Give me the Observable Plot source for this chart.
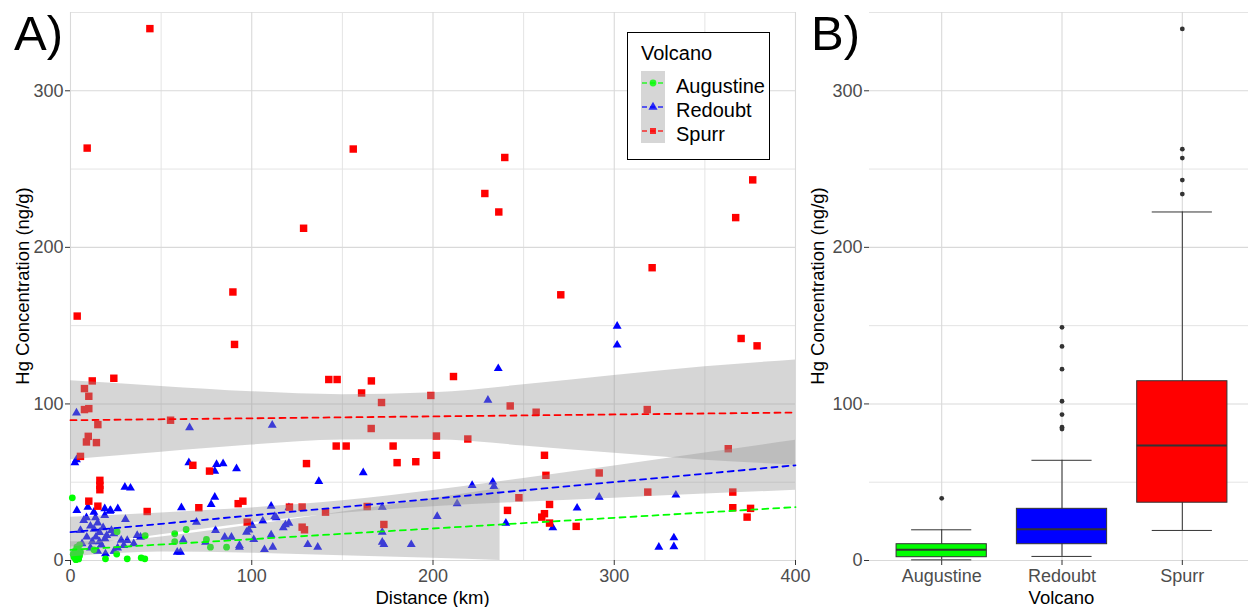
<!DOCTYPE html>
<html>
<head>
<meta charset="utf-8">
<script src="https://cdn.jsdelivr.net/npm/d3@7"></script>
<script src="https://cdn.jsdelivr.net/npm/@observablehq/plot@0.6"></script>
<style>
html, body { margin: 0; padding: 0; background: #ffffff; }
#wrap { position: relative; width: 1248px; height: 607px; overflow: hidden; background: #ffffff; }
#panelA { position: absolute; left: 0; top: 0; width: 800px; height: 607px; }
#panelB { position: absolute; left: 800px; top: 0; width: 460px; height: 607px; }
#panelA svg, #panelB svg { max-width: none !important; display: block; }
#overlay { position: absolute; left: 0; top: 0; }
</style>
</head>
<body>
<div id="wrap">
  <div id="panelA"></div>
  <div id="panelB"></div>
  <svg id="overlay" width="1248" height="607"></svg>
</div>
<script>
// ---------------- DATA ----------------
const volcanoes = ["Augustine", "Redoubt", "Spurr"];
const volcanoColors = ["#00ff00", "#0000ff", "#ff0000"];
const volcanoSymbols = ["circle", "triangle", "square"];
const panelLabels = ["A)", "B)"];
const xTitleA = "Distance (km)";
const xTitleB = "Volcano";
const yTitle = "Hg Concentration (ng/g)";
const legendTitle = "Volcano";

const xTicksA = [0, 100, 200, 300, 400];
const xMinorA = [50, 150, 250, 350];
const yTicks = [0, 100, 200, 300];
const yMinor = [50, 150, 250, 350];

// Augustine observations (distance km, Hg ng/g)
const augustineDist = [1.0, 2.0, 3.0, 4.0, 5.0, 2.5, 4.5, 3.5, 1.5, 25.7,
  41.2, 57.5, 63.8, 57.5, 75.0, 77.2, 86.1, 25.5, 31.3, 39.0,
  41.0, 19.3, 12.9, 5.0, 3.0, 5.5];
const augustineHg = [40.0, 2.0, 5.0, 7.7, 3.0, 6.0, 1.0, 8.5, 4.0, 18.4,
  15.8, 17.1, 19.8, 12.0, 13.4, 8.5, 8.5, 4.1, 1.1, 1.7,
  1.1, 1.1, 6.8, 10.0, 0.5, 5.5];

// Redoubt observations
const redoubtDist = [301.6, 301.6, 236.0, 230.3, 221.6, 233.0, 233.6, 213.3, 202.3, 188.0,
  240.2, 266.1, 279.5, 291.7, 334.0, 324.6, 332.9, 332.9, 3.3, 3.3,
  2.4, 65.7, 111.3, 65.3, 80.6, 84.2, 79.6, 91.6, 137.0, 161.5,
  30.0, 33.1, 3.5, 9.6, 18.9, 22.1, 26.1, 61.2, 77.6, 79.6,
  110.7, 120.5, 112.7, 106.1, 100.2, 98.4, 118.6, 120.5, 69.5, 30.3,
  22.6, 80.0, 110.7, 85.1, 88.8, 62.2, 74.5, 93.2, 93.2, 101.1,
  107.0, 111.6, 130.9, 136.4, 60.7, 172.0, 172.0, 172.0, 172.9, 97.1,
  117.4, 113.5, 8.8, 7.3, 12.9, 18.9, 21.7, 5.5, 6.4, 23.9,
  31.3, 29.4, 34.9, 36.8, 38.6, 19.3, 58.9, 13.8, 11.0, 13.0,
  15.0, 16.0, 14.0, 12.0, 17.0, 19.0, 11.0, 15.0, 18.0, 20.0,
  16.0, 9.0, 26.0, 28.0, 24.0];
const redoubtHg = [149.7, 137.6, 122.6, 102.4, 48.0, 50.1, 47.3, 36.3, 28.2, 10.2,
  23.9, 20.9, 33.5, 40.5, 41.8, 8.5, 14.5, 8.9, 94.3, 64.4,
  62.5, 84.9, 86.4, 62.5, 61.4, 61.9, 57.1, 58.7, 50.5, 56.1,
  46.9, 46.3, 32.0, 34.1, 33.1, 32.0, 33.1, 33.7, 35.8, 40.5,
  34.7, 33.7, 28.2, 25.2, 22.4, 19.6, 22.8, 23.9, 24.5, 26.2,
  19.2, 19.2, 16.4, 14.9, 14.9, 13.2, 11.7, 8.5, 9.6, 13.4,
  7.0, 8.5, 10.2, 8.5, 5.3, 34.1, 18.1, 11.7, 10.2, 18.1,
  20.9, 27.3, 27.3, 25.6, 30.9, 28.8, 31.5, 19.2, 10.7, 17.1,
  12.8, 9.6, 10.7, 16.0, 14.9, 4.3, 5.3, 27.3, 22.0, 20.0,
  24.0, 18.0, 15.0, 12.0, 10.0, 14.0, 8.0, 6.0, 21.0, 16.0,
  12.0, 15.0, 8.0, 13.0, 6.0];

// Spurr observations
const spurrDist = [43.8, 9.2, 156.0, 239.6, 228.6, 236.3, 128.6, 376.4, 367.0, 320.9,
  270.5, 89.6, 90.5, 370.0, 378.8, 3.7, 211.3, 198.8, 242.6, 256.9,
  318.2, 201.9, 219.2, 190.5, 180.2, 201.9, 261.5, 262.3, 291.7, 362.9,
  247.4, 318.5, 365.4, 241.1, 264.3, 261.5, 260.0, 264.3, 279.0, 365.4,
  375.2, 373.3, 7.7, 12.0, 10.1, 7.7, 10.1, 23.9, 15.1, 9.8,
  8.8, 14.3, 5.5, 55.2, 142.5, 147.1, 166.0, 160.6, 171.6, 165.9,
  146.6, 152.1, 178.0, 130.2, 67.5, 76.7, 16.2, 16.2, 16.2, 10.1,
  15.1, 42.3, 70.8, 92.5, 95.1, 97.5, 120.8, 127.8, 140.7, 163.7,
  127.8, 129.1, 172.9];
const spurrHg = [339.7, 263.4, 262.8, 257.4, 234.4, 222.6, 212.2, 243.1, 219.0, 187.0,
  169.7, 171.5, 138.0, 141.8, 137.1, 156.1, 117.5, 105.4, 98.7, 94.7,
  96.4, 79.5, 77.6, 63.1, 62.5, 67.2, 67.2, 54.4, 55.9, 71.4,
  40.1, 43.7, 43.7, 32.0, 35.8, 29.9, 27.7, 23.9, 21.8, 33.7,
  33.3, 27.7, 109.8, 114.7, 104.9, 96.4, 97.0, 116.4, 86.8, 79.3,
  75.7, 75.3, 66.5, 89.6, 115.6, 115.6, 114.7, 107.0, 100.9, 84.3,
  73.1, 73.1, 73.1, 61.9, 60.8, 57.1, 51.2, 48.0, 45.2, 37.9,
  34.7, 31.3, 33.7, 36.3, 37.9, 24.5, 34.1, 34.1, 30.9, 34.5,
  21.3, 19.6, 23.0];

// Linear trend lines (value at 0 km and 400 km)
const trendDist = [0, 400];
const augustineTrend = [6.8, 34.1];
const redoubtTrend = [18.1, 60.8];
const spurrTrend = [89.6, 94.5];

// Confidence bands
const augustineBandDist = [0, 25, 50, 100, 150, 200, 237];
const augustineBandLo = [2.3, 4.5, 5.4, 4.7, 3.1, 1.4, 0.0];
const augustineBandHi = [11.9, 12.5, 15.0, 22.6, 30.9, 39.6, 46.0];
const bandDist = [0, 50, 100, 150, 200, 250, 300, 350, 400];
const redoubtBandLo = [8.5, 16.4, 24.0, 30.1, 34.3, 37.2, 39.8, 42.4, 44.8];
const redoubtBandHi = [27.7, 30.4, 33.6, 38.1, 44.7, 52.4, 60.4, 68.6, 76.8];
const spurrBandLo = [64.4, 69.2, 73.8, 76.9, 77.1, 73.2, 68.5, 64.1, 60.9];
const spurrBandHi = [114.8, 111.2, 107.8, 105.9, 107.1, 112.2, 118.1, 123.7, 128.1];

// Box plot statistics (panel B)
const boxQ1 = [2.1, 10.4, 36.9];
const boxMedian = [6.8, 20.0, 73.4];
const boxQ3 = [10.4, 33.0, 114.5];
const whiskerLow = [0.4, 2.6, 19.2];
const whiskerHigh = [19.6, 64.0, 222.6];
const outlierVolcano = ["Augustine", "Redoubt", "Redoubt", "Redoubt", "Redoubt", "Redoubt", "Redoubt", "Redoubt",
  "Spurr", "Spurr", "Spurr", "Spurr", "Spurr"];
const outlierHg = [39.7, 148.9, 136.7, 122.2, 101.7, 93.2, 85.1, 84.0,
  339.5, 262.7, 257.0, 243.0, 234.0];

// ---------------- HELPERS ----------------
const FONT = '"Liberation Sans", Arial, Helvetica, sans-serif';
const pts = (ds, vs) => ds.map((d, i) => ({d, v: vs[i]}));
const band = (ds, lo, hi) => ds.map((d, i) => ({d, lo: lo[i], hi: hi[i]}));
const MAJOR = "#d9d9d9", MINOR = "#e4e4e4";
const axisStyle = {tickSize: 5, fontSize: 18, fill: "#4d4d4d", stroke: "#333333", label: null};
const plotStyle = {fontFamily: FONT, fontSize: "18px", background: "transparent", overflow: "visible", maxWidth: "none"};

const series = [
  {dist: augustineDist, hg: augustineHg, trend: augustineTrend,
   bd: augustineBandDist, lo: augustineBandLo, hi: augustineBandHi, r: 3.4},
  {dist: redoubtDist, hg: redoubtHg, trend: redoubtTrend,
   bd: bandDist, lo: redoubtBandLo, hi: redoubtBandHi, r: 3.3},
  {dist: spurrDist, hg: spurrHg, trend: spurrTrend,
   bd: bandDist, lo: spurrBandLo, hi: spurrBandHi, r: 4.2}
];

// ---------------- PANEL A ----------------
const pointOrder = [1, 2, 0];
const marksA = [
  Plot.ruleX(xMinorA, {x: d => d, stroke: MINOR, strokeWidth: 1}),
  Plot.ruleY(yMinor, {y: d => d, stroke: MINOR, strokeWidth: 1}),
  Plot.ruleX(xTicksA, {x: d => d, stroke: MAJOR, strokeWidth: 1.1}),
  Plot.ruleY(yTicks, {y: d => d, stroke: MAJOR, strokeWidth: 1.1})
];
for (const k of pointOrder) {
  const s = series[k];
  marksA.push(Plot.dot(pts(s.dist, s.hg), {x: "d", y: "v", symbol: volcanoSymbols[k], r: s.r,
    fill: volcanoColors[k], stroke: "none"}));
}
series.forEach((s, k) => {
  marksA.push(Plot.areaY(band(s.bd, s.lo, s.hi), {x: "d", y1: "lo", y2: "hi",
    fill: "#999999", fillOpacity: 0.4, curve: "monotone-x", clip: true}));
  marksA.push(Plot.line(pts(trendDist, s.trend), {x: "d", y: "v", stroke: volcanoColors[k],
    strokeWidth: 1.8, strokeDasharray: "6,5"}));
});
marksA.push(Plot.axisX({...axisStyle, ticks: xTicksA, tickPadding: 4}));
marksA.push(Plot.axisY({...axisStyle, ticks: yTicks, tickPadding: 2}));

const plotA = Plot.plot({
  width: 800, height: 607,
  marginLeft: 70, marginRight: 5, marginTop: 12, marginBottom: 47,
  x: {domain: [0, 400]},
  y: {domain: [0, 350]},
  style: plotStyle,
  marks: marksA
});
document.getElementById("panelA").appendChild(plotA);

// ---------------- PANEL B ----------------
const boxes = volcanoes.map((name, k) => ({name, i: k + 1, q1: boxQ1[k], med: boxMedian[k],
  q3: boxQ3[k], lo: whiskerLow[k], hi: whiskerHigh[k]}));
const outs = outlierVolcano.map((n, j) => ({i: volcanoes.indexOf(n) + 1, v: outlierHg[j]}));
const catPos = volcanoes.map((n, k) => k + 1);

const plotB = Plot.plot({
  width: 460, height: 607,
  marginLeft: 69, marginRight: 6, marginTop: 12, marginBottom: 47,
  x: {domain: [0.4, 3.6]},
  y: {domain: [0, 350]},
  color: {domain: volcanoes, range: volcanoColors},
  style: plotStyle,
  marks: [
    Plot.ruleY(yMinor, {y: d => d, stroke: MINOR, strokeWidth: 1}),
    Plot.ruleX(catPos, {x: d => d, stroke: MAJOR, strokeWidth: 1.1}),
    Plot.ruleY(yTicks, {y: d => d, stroke: MAJOR, strokeWidth: 1.1}),
    Plot.ruleX(boxes, {x: "i", y1: "lo", y2: "hi", stroke: "#333333", strokeWidth: 1}),
    Plot.ruleY(boxes, {y: "lo", x1: d => d.i - 0.25, x2: d => d.i + 0.25, stroke: "#333333", strokeWidth: 1}),
    Plot.ruleY(boxes, {y: "hi", x1: d => d.i - 0.25, x2: d => d.i + 0.25, stroke: "#333333", strokeWidth: 1}),
    Plot.rect(boxes, {x1: d => d.i - 0.375, x2: d => d.i + 0.375, y1: "q1", y2: "q3",
      fill: "name", stroke: "#333333", strokeWidth: 1}),
    Plot.ruleY(boxes, {y: "med", x1: d => d.i - 0.375, x2: d => d.i + 0.375, stroke: "#333333", strokeWidth: 2}),
    Plot.dot(outs, {x: "i", y: "v", r: 2.4, fill: "#333333", stroke: "none"}),
    Plot.axisX({...axisStyle, ticks: catPos, tickFormat: i => volcanoes[i - 1], tickPadding: 4}),
    Plot.axisY({...axisStyle, ticks: yTicks, tickPadding: 2})
  ]
});
document.getElementById("panelB").appendChild(plotB);

// ---------------- TITLES, LABELS, LEGEND ----------------
const ov = d3.select("#overlay").style("font-family", FONT);
ov.append("text").attr("x", 14).attr("y", 50).attr("font-size", 49).attr("fill", "#000").text(panelLabels[0]);
ov.append("text").attr("x", 811).attr("y", 50).attr("font-size", 49).attr("fill", "#000").text(panelLabels[1]);
ov.append("text").attr("transform", "translate(28.5,286) rotate(-90)").attr("text-anchor", "middle")
  .attr("font-size", 18.5).attr("fill", "#000").text(yTitle);
ov.append("text").attr("transform", "translate(824,286) rotate(-90)").attr("text-anchor", "middle")
  .attr("font-size", 18.5).attr("fill", "#000").text(yTitle);
ov.append("text").attr("x", 432.5).attr("y", 604).attr("text-anchor", "middle")
  .attr("font-size", 18.5).attr("fill", "#000").text(xTitleA);
ov.append("text").attr("x", 1061.5).attr("y", 604).attr("text-anchor", "middle")
  .attr("font-size", 18.5).attr("fill", "#000").text(xTitleB);

const lg = ov.append("g");
lg.append("rect").attr("x", 627.5).attr("y", 32.5).attr("width", 142).attr("height", 127)
  .attr("fill", "#fff").attr("stroke", "#000").attr("stroke-width", 1);
lg.append("text").attr("x", 641).attr("y", 60).attr("font-size", 20).attr("fill", "#000").text(legendTitle);
lg.append("rect").attr("x", 641).attr("y", 71).attr("width", 24).attr("height", 72).attr("fill", "#d6d6d6");
const symMap = {circle: d3.symbolCircle, triangle: d3.symbolTriangle, square: d3.symbolSquare};
volcanoes.forEach((name, k) => {
  const cy = 83 + k * 24;
  lg.append("line").attr("x1", 642).attr("x2", 664).attr("y1", cy).attr("y2", cy)
    .attr("stroke", volcanoColors[k]).attr("stroke-width", 1.6).attr("stroke-dasharray", "5,3")
    .attr("opacity", 0.8);
  lg.append("path").attr("transform", `translate(653,${cy})`)
    .attr("d", d3.symbol(symMap[volcanoSymbols[k]], 36)())
    .attr("fill", volcanoColors[k]).attr("opacity", 0.8);
  lg.append("text").attr("x", 676).attr("y", cy + 9.5).attr("font-size", 20).attr("fill", "#000").text(name);
});
</script>
</body>
</html>
